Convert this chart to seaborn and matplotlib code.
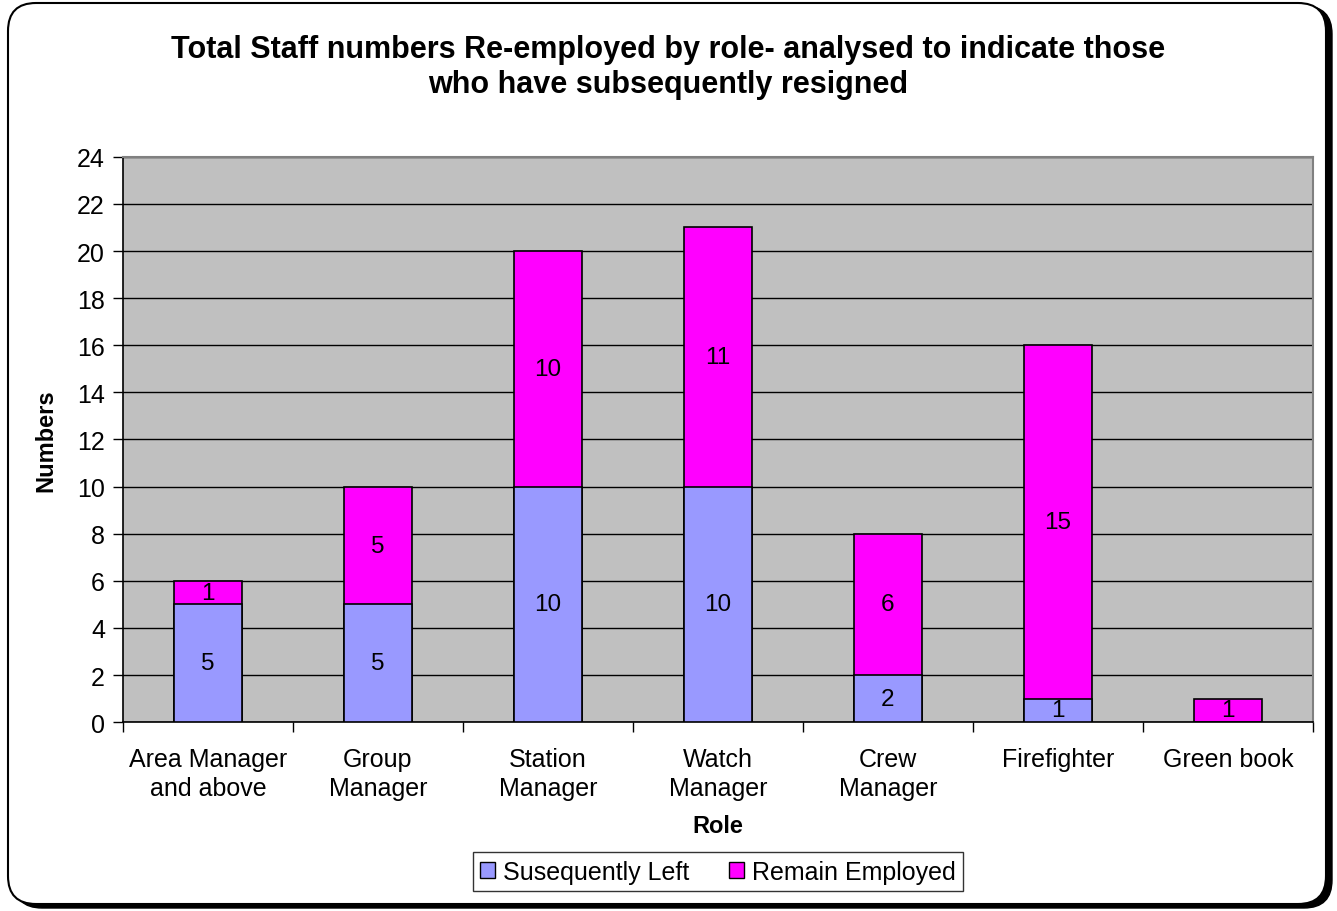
import matplotlib
matplotlib.use("Agg")
import matplotlib.pyplot as plt
from matplotlib.patches import FancyBboxPatch, Patch
from matplotlib.ticker import FixedLocator
import seaborn as sns
import pandas as pd

roles = ["Area Manager\nand above", "Group\nManager", "Station\nManager", "Watch\nManager",
         "Crew\nManager", "Firefighter", "Green book"]
left_vals = [5, 5, 10, 10, 2, 1, 0]
remain_vals = [1, 5, 10, 11, 6, 15, 1]
series_names = ["Susequently Left", "Remain Employed"]
title = "Total Staff numbers Re-employed by role- analysed to indicate those\nwho have subsequently resigned"

c_left = "#9999FF"
c_remain = "#FF00FF"

sns.set_theme(style="white")
plt.rcParams["font.family"] = ["Liberation Sans", "DejaVu Sans"]
for k in ["text.color", "axes.labelcolor", "xtick.color", "ytick.color"]:
    plt.rcParams[k] = "black"

df = pd.DataFrame({"role": roles, "left": left_vals, "remain": remain_vals})
df["total"] = df["left"] + df["remain"]

fig = plt.figure(figsize=(13.37, 9.12), dpi=100)
ax = fig.add_axes([0.092, 0.207, 0.890, 0.620])
ax.set_facecolor("#C0C0C0")

sns.barplot(data=df, x="role", y="total", color=c_remain, saturation=1, width=0.4,
            edgecolor="black", linewidth=1.2, ax=ax, zorder=3)
sns.barplot(data=df, x="role", y="left", color=c_left, saturation=1, width=0.4,
            edgecolor="black", linewidth=1.2, ax=ax, zorder=3)

for i, (l, r) in enumerate(zip(left_vals, remain_vals)):
    if l > 0:
        ax.text(i, l / 2, str(l), ha="center", va="center", fontsize=17.5, zorder=5)
    if r > 0:
        ax.text(i, l + r / 2, str(r), ha="center", va="center", fontsize=17.5, zorder=5)

ax.set_xlim(-0.5, len(roles) - 0.5)
ax.set_ylim(0, 24)
ax.set_yticks(range(0, 25, 2))
ax.yaxis.grid(True, color="black", linewidth=1)
ax.set_axisbelow(True)
ax.tick_params(axis="y", which="major", direction="out", length=7, width=1, color="black",
               labelsize=18, left=True, pad=6)
ax.tick_params(axis="x", which="major", length=0, labelsize=18, pad=18)
for t in ax.get_xticklabels():
    t.set_linespacing(1.25)
ax.xaxis.set_minor_locator(FixedLocator([i - 0.5 for i in range(len(roles) + 1)]))
ax.tick_params(axis="x", which="minor", direction="out", length=7, width=1, color="black", bottom=True)

for s in ["left", "bottom"]:
    ax.spines[s].set_color("black")
    ax.spines[s].set_linewidth(1.2)
for s in ["top", "right"]:
    ax.spines[s].set_color("#808080")
    ax.spines[s].set_linewidth(1.5)

ax.set_xlabel("Role", fontsize=17, fontweight="bold", labelpad=10)
ax.set_ylabel("Numbers", fontsize=17, fontweight="bold", labelpad=14)

fig.text(0.5, 0.926, title, ha="center", va="center", fontsize=22, fontweight="bold",
         linespacing=1.2)

handles = [Patch(facecolor=c_left, edgecolor="black", linewidth=1),
           Patch(facecolor=c_remain, edgecolor="black", linewidth=1)]
leg = fig.legend(handles, series_names, loc="center", bbox_to_anchor=(0.537, 0.043), ncol=2,
                 fontsize=18, frameon=True, fancybox=False, handlelength=0.6, handleheight=0.6,
                 handletextpad=0.3, columnspacing=1.6, borderpad=0.3)
leg.get_frame().set_edgecolor("black")
leg.get_frame().set_linewidth(1)

# rounded border with shadow (pixel coordinates)
H = 912
shadow = FancyBboxPatch((14, H - 909), 1318, 902, boxstyle="round,pad=0,rounding_size=28",
                        transform=None, facecolor="black", edgecolor="black", linewidth=1,
                        zorder=-2)
border = FancyBboxPatch((8, H - 905), 1318, 901, boxstyle="round,pad=0,rounding_size=28",
                        transform=None, facecolor="white", edgecolor="black", linewidth=1.5,
                        zorder=-1)
fig.patches.extend([shadow, border])

fig.savefig("out.png", dpi=100)
